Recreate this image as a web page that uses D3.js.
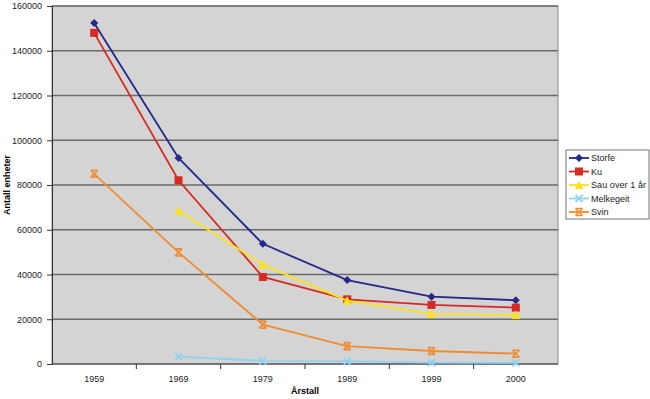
<!DOCTYPE html>
<html>
<head>
<meta charset="utf-8">
<script src="https://cdn.jsdelivr.net/npm/d3@7"></script>
<style>
  body { margin: 0; background: #fff; }
  svg { font-family: "Liberation Sans", Arial, sans-serif; }
</style>
</head>
<body>
<svg id="chart" width="650" height="399"></svg>
<script>
// data
const years = ['1959', '1969', '1979', '1989', '1999', '2000'];
const storfe = [152400, 92100, 53700, 37500, 30100, 28500];
const ku = [148000, 82100, 38900, 28900, 26400, 25200];
const sau = [null, 68500, 44400, 28300, 22400, 21900];
const melkegeit = [null, 3300, 1400, 1300, 600, 500];
const svin = [85000, 49900, 17600, 8000, 5800, 4600];
const yTicks = [0, 20000, 40000, 60000, 80000, 100000, 120000, 140000, 160000];

const series = [
  { name: 'Storfe', values: storfe, color: '#25288a', marker: 'diamond' },
  { name: 'Ku', values: ku, color: '#d62a22', marker: 'square' },
  { name: 'Sau over 1 år', values: sau, color: '#ffe31a', marker: 'triangle' },
  { name: 'Melkegeit', values: melkegeit, color: '#8fd3f0', marker: 'cross' },
  { name: 'Svin', values: svin, color: '#f08c32', marker: 'star' }
];

const svg = d3.select('#chart');
const plotL = 52, plotR = 558, plotT = 6, plotB = 364;
const fs = 9;

const x = d3.scaleBand().domain(years).range([plotL, plotR]);
const y = d3.scaleLinear().domain([0, 160000]).range([plotB, plotT]);

// plot background
svg.append('rect')
  .attr('x', plotL).attr('y', plotT)
  .attr('width', plotR - plotL).attr('height', plotB - plotT)
  .attr('fill', '#d4d4d4')
  .attr('stroke', '#8a8a8a').attr('stroke-width', 1);

// gridlines
svg.append('g').selectAll('line')
  .data(yTicks.filter(d => d > 0))
  .join('line')
  .attr('x1', plotL).attr('x2', plotR)
  .attr('y1', d => y(d)).attr('y2', d => y(d))
  .attr('stroke', '#6b6b6b').attr('stroke-width', 1.6);

// y axis
const yAxis = svg.append('g')
  .attr('transform', `translate(${plotL},0)`)
  .call(d3.axisLeft(y).tickValues(yTicks).tickSize(5).tickPadding(5).tickFormat(d3.format('d')));
yAxis.select('.domain').attr('stroke', '#333');
yAxis.selectAll('.tick line').attr('stroke', '#333');
yAxis.selectAll('text').attr('font-size', fs).attr('fill', '#222');

// x axis, ticks between categories
const xAxis = svg.append('g').attr('transform', `translate(0,${plotB})`);
xAxis.append('line')
  .attr('x1', plotL).attr('x2', plotR)
  .attr('stroke', '#333');
xAxis.selectAll('.tk')
  .data(years.slice(1))
  .join('line')
  .attr('class', 'tk')
  .attr('x1', d => x(d)).attr('x2', d => x(d))
  .attr('y1', 0).attr('y2', 5)
  .attr('stroke', '#333');
xAxis.selectAll('text')
  .data(years)
  .join('text')
  .attr('x', d => x(d) + x.bandwidth() / 2)
  .attr('y', 18)
  .attr('text-anchor', 'middle')
  .attr('font-size', fs)
  .attr('fill', '#222')
  .text(d => d);

// axis titles
svg.append('text')
  .attr('x', (plotL + plotR) / 2).attr('y', 394)
  .attr('text-anchor', 'middle')
  .attr('font-size', fs).attr('font-weight', 'bold')
  .text('Årstall');
svg.append('text')
  .attr('transform', `translate(10,${(plotT + plotB) / 2}) rotate(-90)`)
  .attr('text-anchor', 'middle')
  .attr('font-size', fs).attr('font-weight', 'bold')
  .text('Antall enheter');

const cx = d => x(d) + x.bandwidth() / 2;

function drawMarker(g, type, color) {
  if (type === 'diamond') {
    g.append('path').attr('d', 'M0,-4L4,0L0,4L-4,0Z').attr('fill', color);
  } else if (type === 'square') {
    g.append('rect').attr('x', -4).attr('y', -4).attr('width', 8).attr('height', 8).attr('fill', color);
  } else if (type === 'triangle') {
    g.append('path').attr('d', 'M0,-4.5L4.5,4L-4.5,4Z').attr('fill', color);
  } else if (type === 'cross') {
    g.append('path').attr('d', 'M-3.5,-3.5L3.5,3.5M-3.5,3.5L3.5,-3.5')
      .attr('stroke', color).attr('stroke-width', 1.8);
  } else {
    g.append('path').attr('d', 'M-3.5,-3.5L3.5,3.5M-3.5,3.5L3.5,-3.5M-3.5,-3.5L3.5,-3.5M-3.5,3.5L3.5,3.5')
      .attr('stroke', color).attr('stroke-width', 1.6);
  }
}

const line = d3.line()
  .defined(d => d.v != null)
  .x(d => cx(d.year))
  .y(d => y(d.v));

series.forEach(s => {
  const pts = years.map((yr, i) => ({ year: yr, v: s.values[i] }));
  svg.append('path')
    .datum(pts)
    .attr('fill', 'none')
    .attr('stroke', s.color)
    .attr('stroke-width', 1.8)
    .attr('d', line);
  pts.filter(d => d.v != null).forEach(d => {
    const g = svg.append('g').attr('transform', `translate(${cx(d.year)},${y(d.v)})`);
    drawMarker(g, s.marker, s.color);
  });
});

// legend
const legend = svg.append('g').attr('transform', 'translate(566,150)');
legend.append('rect')
  .attr('width', 83).attr('height', 69)
  .attr('fill', '#fff').attr('stroke', '#777');
series.forEach((s, i) => {
  const ly = 8 + i * 13.5;
  legend.append('line')
    .attr('x1', 3).attr('x2', 23).attr('y1', ly).attr('y2', ly)
    .attr('stroke', s.color).attr('stroke-width', 1.8);
  drawMarker(legend.append('g').attr('transform', `translate(13,${ly})`), s.marker, s.color);
  legend.append('text')
    .attr('x', 25).attr('y', ly + 3.2)
    .attr('font-size', fs).attr('fill', '#222')
    .attr('textLength', s.name === 'Sau over 1 år' ? 55 : null)
    .text(s.name);
});
</script>
</body>
</html>
